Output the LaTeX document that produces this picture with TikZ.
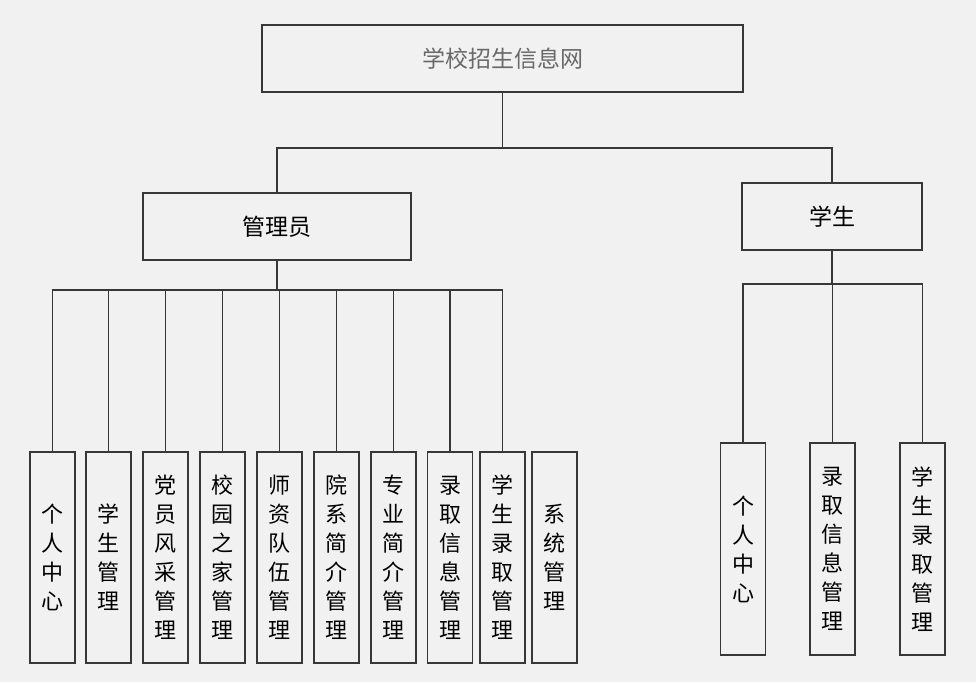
\documentclass[tikz,border=0pt]{standalone}
\usepackage{fontspec}
\newfontfamily\cjk{Noto Sans CJK SC}
\usetikzlibrary{positioning}
\definecolor{bgcol}{RGB}{241,241,241}
\definecolor{linecol}{RGB}{55,55,55}
\definecolor{titlecol}{RGB}{105,105,105}
\tikzset{every picture/.style={line width=0.7pt}}

\begin{document}
\begin{tikzpicture}[x=0.5pt, y=-0.5pt,
    every node/.style={font=\cjk\fontsize{11.5}{14}\selectfont},
    box/.style={draw=linecol, rectangle, inner sep=0pt},
    headbox/.style={box, minimum height=33.5pt},
    leafbox/.style={box, minimum width=22.5pt, minimum height=105.5pt, align=center,
        font=\cjk\fontsize{11}{14.5}\selectfont}]
    % canvas
    \fill[bgcol] (0,0) rectangle (976,682);
    \useasboundingbox (0,0) rectangle (976,682);

    % top levels
    \node[headbox, minimum width=240.5pt, text=titlecol] (root) at (502.5,58.5) {学校招生信息网};
    \node[headbox, minimum width=134pt] (admin) at (277,226.5) {管理员};
    \node[headbox, minimum width=90pt] (stu) at (832,216.5) {学生};

    % admin leaves
    \node[leafbox] (a1) at (52.5,557.5) {个\\人\\中\\心};
    \node[leafbox] (a2) at (108.5,557.5) {学\\生\\管\\理};
    \node[leafbox] (a3) at (165.5,557.5) {党\\员\\风\\采\\管\\理};
    \node[leafbox] (a4) at (222.5,557.5) {校\\园\\之\\家\\管\\理};
    \node[leafbox] (a5) at (279.5,557.5) {师\\资\\队\\伍\\管\\理};
    \node[leafbox] (a6) at (336.5,557.5) {院\\系\\简\\介\\管\\理};
    \node[leafbox] (a7) at (393.5,557.5) {专\\业\\简\\介\\管\\理};
    \node[leafbox] (a8) at (450,557.5) {录\\取\\信\\息\\管\\理};
    \node[leafbox] (a9) at (502.5,557.5) {学\\生\\录\\取\\管\\理};
    \node[leafbox] (a10) at (554.5,557.5) {系\\统\\管\\理};

    % student leaves
    \node[leafbox, minimum height=106pt] (s1) at (743,549) {个\\人\\中\\心};
    \node[leafbox, minimum height=106pt] (s2) at (832.5,549) {录\\取\\信\\息\\管\\理};
    \node[leafbox, minimum height=106pt] (s3) at (922.5,549) {学\\生\\录\\取\\管\\理};

    % connectors
    \coordinate (rj) at (root.south |- 0,148);
    \coordinate (aj) at (admin.south |- 0,290);
    \coordinate (sj) at (stu.south |- 0,284);
    \draw[linecol] (root.south) -- (rj);
    \draw[linecol] (rj) -| (admin.north);
    \draw[linecol] (rj) -| (stu.north);
    \draw[linecol] (admin.south) -- (aj);
    \foreach \i in {1,...,9}
        \draw[linecol] (aj) -| (a\i.north);
    \draw[linecol] (stu.south) -- (sj);
    \foreach \i in {1,2,3}
        \draw[linecol] (sj) -| (s\i.north);
\end{tikzpicture}
\end{document}
